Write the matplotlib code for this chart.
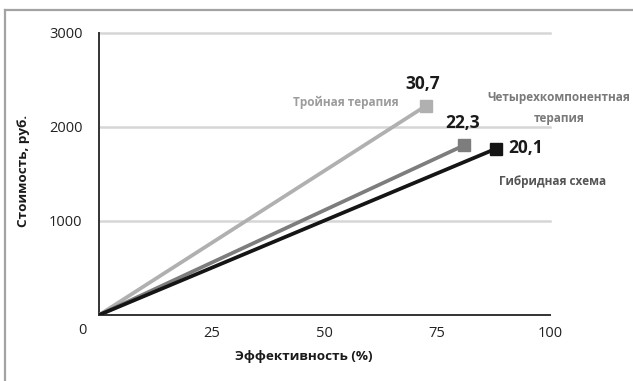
import matplotlib
matplotlib.use("Agg")
import matplotlib.pyplot as plt
from matplotlib.lines import Line2D

plt.rcParams['font.family'] = ['Open Sans', 'DejaVu Sans']

# --- Data: cost-effectiveness of three treatment schemes ---
schemes = ['Тройная терапия', 'Четырехкомпонентная\nтерапия', 'Гибридная схема']
effect = [72.5, 81.0, 88.0]          # эффективность, %
ratio = [30.7, 22.3, 20.1]           # стоимость / эффективность, руб.
cost = [e * r for e, r in zip(effect, ratio)]

colors = ['#b0b0b0', '#7d7d7d', '#151515']
name_colors = ['#9c9c9c', '#7a7a7a', '#555555']

x_ticks = [25, 50, 75, 100]
y_ticks = [1000, 2000, 3000]

fig = plt.figure(figsize=(6.33, 3.81), dpi=100)
ax = fig.add_axes([99 / 633, 1 - 315 / 381, 451 / 633, 282 / 381])

for yt in y_ticks:
    ax.axhline(yt, color='#d6d6d6', lw=1.8, zorder=1, clip_on=False)

for e, c, col in zip(effect, cost, colors):
    ax.plot([0, e], [0, c], color=col, lw=2.7, zorder=3, solid_capstyle='butt')
    ax.plot([e], [c], marker='s', ms=9, color=col, zorder=4, clip_on=False)

# value labels above / beside the end markers
val_offsets = [(-3, 22, 'center'), (-2, 22, 'center'), (12, 1, 'left')]
for e, c, r, (dx, dy, ha) in zip(effect, cost, ratio, val_offsets):
    ax.annotate(f'{r:.1f}'.replace('.', ','), (e, c), xytext=(dx, dy),
                textcoords='offset pixels', ha=ha, va='center',
                fontsize=12.5, fontweight='bold', color='#1a1a1a')

# scheme names
name_offsets = [(-27, 3, 'right'), (95, 37, 'center'), (57, -33, 'center')]
for e, c, name, col, (dx, dy, ha) in zip(effect, cost, schemes, name_colors, name_offsets):
    ax.annotate(name, (e, c), xytext=(dx, dy), textcoords='offset pixels',
                ha=ha, va='center', fontsize=8.5, fontweight='bold', color=col,
                linespacing=1.85, annotation_clip=False)

ax.set_xlim(0, 100)
ax.set_ylim(0, 3000)
ax.set_xticks(x_ticks)
ax.set_yticks(y_ticks)
ax.tick_params(length=0, labelsize=10.5, colors='#222222')
ax.tick_params(axis='x', pad=8)
ax.tick_params(axis='y', pad=12)
# shared zero at the corner
ax.annotate('0', (0, 0), xytext=(-17, -15), textcoords='offset pixels',
            ha='center', va='center', fontsize=10.5, color='#222222',
            annotation_clip=False)

for side in ['top', 'right']:
    ax.spines[side].set_visible(False)
for side in ['left', 'bottom']:
    ax.spines[side].set_color('#333333')
    ax.spines[side].set_linewidth(1.4)

ax.set_xlabel('Эффективность (%)', fontsize=9.7, fontweight='bold', color='#1a1a1a')
ax.set_ylabel('Стоимость, руб.', fontsize=9.7, fontweight='bold', color='#1a1a1a')
ax.xaxis.set_label_coords(0.455, -0.125)
ax.yaxis.set_label_coords(-0.152, 0.51)

# outer frame
fig.add_artist(Line2D([5 / 633, 1], [1 - 10 / 381] * 2, color='#a3a3a3', lw=1.6))
fig.add_artist(Line2D([5 / 633] * 2, [0, 1 - 10 / 381], color='#a3a3a3', lw=1.6))

fig.savefig('out.png', dpi=100)
